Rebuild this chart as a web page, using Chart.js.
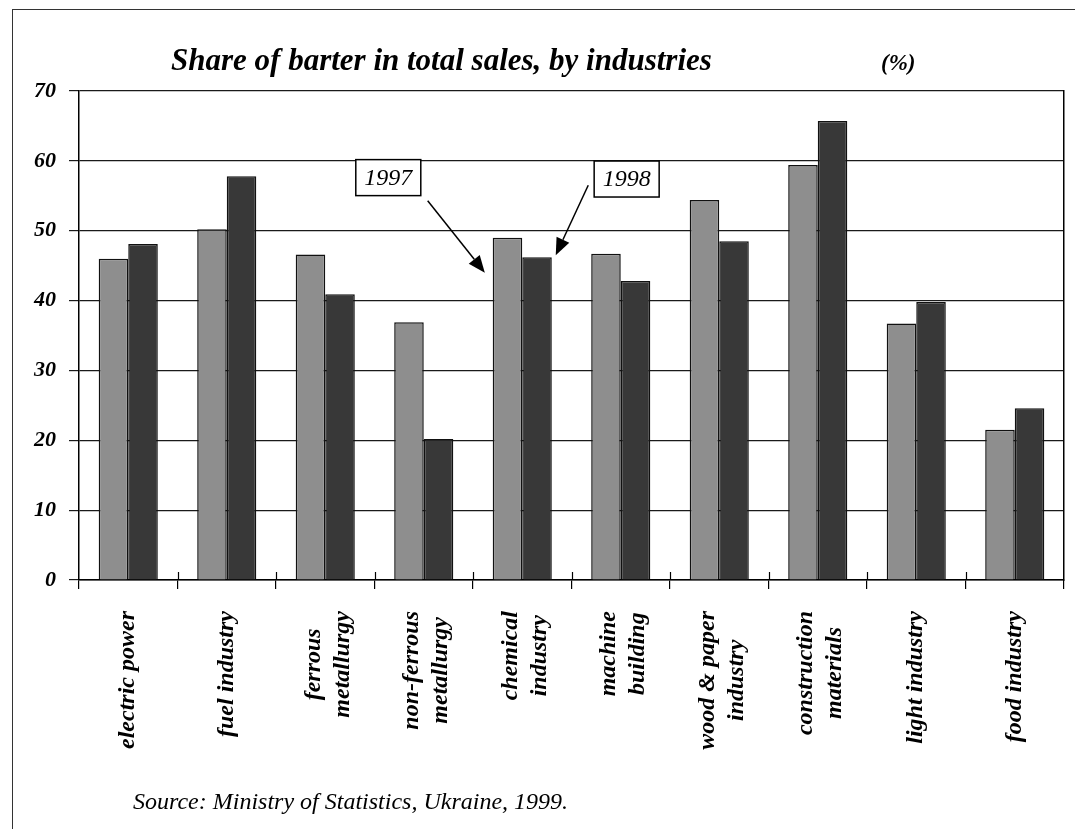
<!DOCTYPE html>
<html><head><meta charset="utf-8">
<script src="https://cdn.jsdelivr.net/npm/chart.js@4/dist/chart.umd.min.js"></script>
<style>
html,body{margin:0;padding:0;background:#fff;}
body{width:1075px;height:829px;position:relative;overflow:hidden;font-family:"Liberation Serif","Times New Roman",serif;}
#frame{position:absolute;left:12px;top:9px;width:1200px;height:1000px;border-left:1.5px solid #333;border-top:1.5px solid #333;}
#wrap{position:absolute;left:0;top:0;width:1075px;height:829px;}
.t{position:absolute;white-space:nowrap;color:#000;line-height:1;}
#title{left:171px;top:44px;font-size:31px;font-weight:bold;font-style:italic;}
#unit{left:881px;top:51px;font-size:23px;font-weight:bold;font-style:italic;}
#source{left:133px;top:789px;font-size:24px;font-style:italic;}
</style></head>
<body>
<div id="frame"></div>
<div id="wrap"><canvas id="c" width="1075" height="829"></canvas></div>
<div class="t" id="title">Share of barter in total sales, by industries</div>
<div class="t" id="unit">(%)</div>
<div class="t" id="source">Source: Ministry of Statistics, Ukraine, 1999.</div>
<script>
const categories = [
  ["electric power"],
  ["fuel industry"],
  ["ferrous", "metallurgy"],
  ["non-ferrous", "metallurgy"],
  ["chemical", "industry"],
  ["machine", "building"],
  ["wood & paper", "industry"],
  ["construction", "materials"],
  ["light industry"],
  ["food industry"]
];
const seriesNames = ["1997", "1998"];
const values1997 = [46.0, 50.2, 46.6, 36.9, 49.0, 46.7, 54.4, 59.4, 36.7, 21.5];
const values1998 = [48.1, 57.8, 40.9, 20.2, 46.2, 42.8, 48.5, 65.7, 39.8, 24.6];
const yTickValues = [0, 10, 20, 30, 40, 50, 60, 70];

// callout labels: positions in category-index / value units
const callouts = [
  { text: "1997", box: [2.64, 57.6], from: [3.04, 54.3], to: [3.62, 44.0] },
  { text: "1998", box: [5.06, 57.4], from: [4.67, 56.5], to: [4.34, 46.5] }
];

const serif = "'Liberation Serif','Times New Roman',serif";

const calloutPlugin = {
  id: 'callouts',
  afterDatasetsDraw(chart) {
    const ctx = chart.ctx, xs = chart.scales.x, ys = chart.scales.y;
    ctx.save();
    callouts.forEach(c => {
      const x1 = xs.getPixelForValue(c.from[0]), y1 = ys.getPixelForValue(c.from[1]);
      const x2 = xs.getPixelForValue(c.to[0]), y2 = ys.getPixelForValue(c.to[1]);
      const ang = Math.atan2(y2 - y1, x2 - x1);
      const hl = 17, hw = 7;
      const bx = x2 - hl * Math.cos(ang), by = y2 - hl * Math.sin(ang);
      ctx.strokeStyle = '#000'; ctx.lineWidth = 1.5;
      ctx.beginPath(); ctx.moveTo(x1, y1); ctx.lineTo(bx, by); ctx.stroke();
      ctx.fillStyle = '#000';
      ctx.beginPath();
      ctx.moveTo(x2, y2);
      ctx.lineTo(bx + hw * Math.sin(ang), by - hw * Math.cos(ang));
      ctx.lineTo(bx - hw * Math.sin(ang), by + hw * Math.cos(ang));
      ctx.closePath(); ctx.fill();

      const cx = xs.getPixelForValue(c.box[0]), cy = ys.getPixelForValue(c.box[1]);
      ctx.font = "italic 24px " + serif;
      const w = ctx.measureText(c.text).width + 17, h = 36;
      ctx.fillStyle = '#fff';
      ctx.fillRect(cx - w / 2, cy - h / 2, w, h);
      ctx.lineWidth = 1.5; ctx.strokeStyle = '#000';
      ctx.strokeRect(cx - w / 2, cy - h / 2, w, h);
      ctx.fillStyle = '#000'; ctx.textAlign = 'center'; ctx.textBaseline = 'middle';
      ctx.fillText(c.text, cx, cy + 1);
    });
    ctx.restore();
  }
};

const xLabelPlugin = {
  id: 'xlabels',
  afterDraw(chart) {
    const ctx = chart.ctx, xs = chart.scales.x;
    ctx.save();
    // tick marks crossing the axis upward between categories
    ctx.strokeStyle = '#000'; ctx.lineWidth = 1.2;
    for (let i = 1; i < categories.length; i++) {
      const bx = Math.round(xs.getPixelForValue(i - 0.5)) + 0.5;
      ctx.beginPath(); ctx.moveTo(bx, xs.top - 8); ctx.lineTo(bx, xs.top); ctx.stroke();
    }
    ctx.font = "italic bold 24px " + serif;
    ctx.fillStyle = '#000'; ctx.textAlign = 'center'; ctx.textBaseline = 'middle';
    categories.forEach((lines, i) => {
      const px = xs.getPixelForValue(i);
      const maxW = Math.max(...lines.map(l => ctx.measureText(l).width));
      const cy = xs.top + 31 + maxW / 2;
      const n = lines.length;
      const shift = n > 1 ? 3 : 0;
      lines.forEach((ln, j) => {
        const lx = px + shift + (j - (n - 1) / 2) * 29;
        ctx.save(); ctx.translate(lx, cy); ctx.rotate(-Math.PI / 2); ctx.fillText(ln, 0, 0); ctx.restore();
      });
    });
    ctx.restore();
  }
};

new Chart(document.getElementById('c'), {
  type: 'bar',
  data: {
    labels: categories,
    datasets: [
      { label: seriesNames[0], data: values1997, backgroundColor: '#8e8e8e', borderColor: '#111', borderWidth: 1.5, categoryPercentage: 0.6, barPercentage: 1.0 },
      { label: seriesNames[1], data: values1998, backgroundColor: '#383838', borderColor: '#111', borderWidth: 1.5, categoryPercentage: 0.6, barPercentage: 1.0 }
    ]
  },
  options: {
    responsive: false,
    animation: false,
    layout: { padding: { left: 19, top: 91, right: 11, bottom: 0 } },
    plugins: { legend: { display: false }, tooltip: { enabled: false }, title: { display: false } },
    scales: {
      x: {
        offset: true,
        grid: { display: true, drawOnChartArea: false, drawTicks: true, tickLength: 9, color: '#000', lineWidth: 1.2, offset: true },
        border: { display: true, color: '#000', width: 1.5 },
        ticks: { display: false },
        afterFit(s) { s.height = 249; }
      },
      y: {
        min: 0, max: 70,
        afterBuildTicks(s) { s.ticks = yTickValues.map(v => ({ value: v })); },
        ticks: { padding: 13, color: '#000', font: { family: serif, size: 22, style: 'italic', weight: 'bold' } },
        grid: { color: '#1a1a1a', lineWidth: 1.2, tickLength: 10 },
        border: { display: true, color: '#000', width: 1.5 },
        afterFit(s) { s.width = 60; }
      },
      y2: {
        type: 'linear', position: 'right', min: 0, max: 70,
        grid: { drawOnChartArea: false, drawTicks: false },
        ticks: { display: false },
        border: { display: true, color: '#000', width: 1.5 },
        afterFit(s) { s.width = 0; }
      }
    }
  },
  plugins: [calloutPlugin, xLabelPlugin]
});
</script>
</body></html>
